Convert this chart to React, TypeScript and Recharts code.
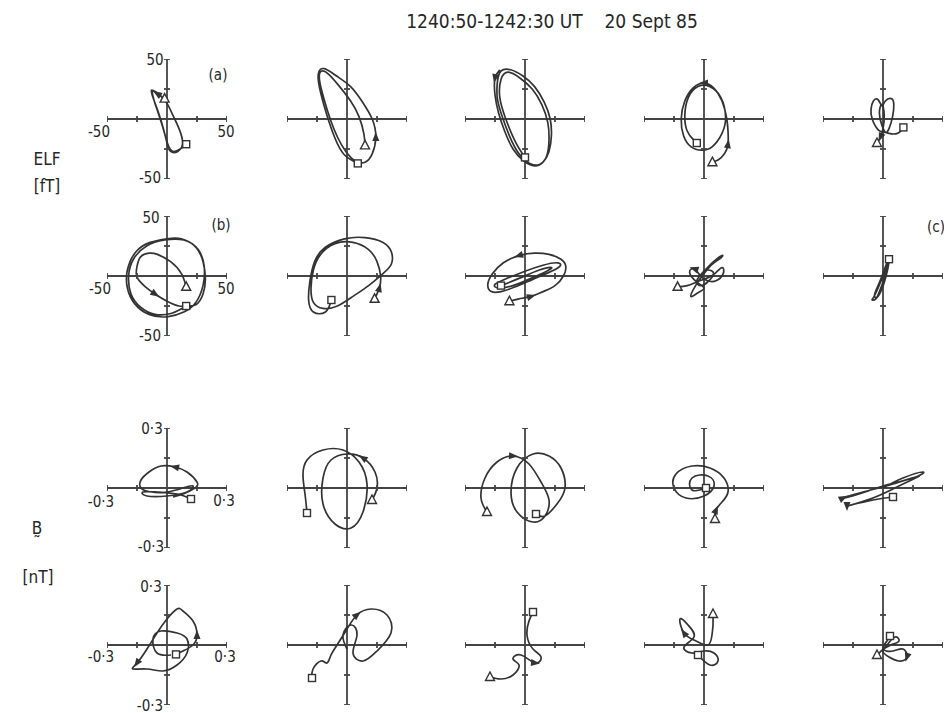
import React from "react";
import { ComposedChart, Line, Scatter, XAxis, YAxis, ReferenceLine } from "recharts";

type Pt = { x: number; y: number };
type Mark = "tri" | "sq" | "none";

const title = "1240:50-1242:30 UT    20 Sept 85";
const colX = [167, 347, 525, 704, 883];
const rowY = [119, 276, 488, 645];
const elfTicks = [-50, -25, 25, 50];
const bTicks = [-0.3, -0.15, 0.15, 0.3];

// ELF (a) row, fT
const elfA1: Pt[] = [
  { x: -2, y: 17 }, { x: -8, y: 21 }, { x: -13, y: 24 }, { x: -11, y: 16 }, { x: -7, y: 5 },
  { x: -3, y: -8 }, { x: 0, y: -20 }, { x: 3, y: -27 }, { x: 9, y: -27 }, { x: 13, y: -20 },
  { x: 10, y: -8 }, { x: 5, y: 3 }, { x: 0, y: 13 }, { x: -6, y: 20 }, { x: -12, y: 23 },
  { x: -10, y: 13 }, { x: -6, y: 1 }, { x: -2, y: -12 }, { x: 1, y: -22 }, { x: 5, y: -27 },
  { x: 11, y: -25 }, { x: 16, y: -21 },
];
const elfA2: Pt[] = [
  { x: 15, y: -22 }, { x: 14, y: -12 }, { x: 10, y: 2 }, { x: 3, y: 15 }, { x: -7, y: 28 },
  { x: -15, y: 37 }, { x: -21, y: 40 }, { x: -23, y: 33 }, { x: -19, y: 16 }, { x: -14, y: 0 },
  { x: -8, y: -15 }, { x: -1, y: -27 }, { x: 7, y: -35 }, { x: 15, y: -36 }, { x: 21, y: -29 },
  { x: 24, y: -15 }, { x: 21, y: 0 }, { x: 13, y: 14 }, { x: 3, y: 27 }, { x: -9, y: 36 },
  { x: -19, y: 42 }, { x: -24, y: 37 }, { x: -22, y: 22 }, { x: -17, y: 4 }, { x: -10, y: -16 },
  { x: -2, y: -30 }, { x: 9, y: -37 },
];
const elfA3: Pt[] = [
  { x: -21, y: 41 }, { x: -25, y: 34 }, { x: -25, y: 20 }, { x: -22, y: 5 }, { x: -17, y: -10 },
  { x: -10, y: -25 }, { x: -1, y: -35 }, { x: 8, y: -39 }, { x: 15, y: -36 }, { x: 20, y: -27 },
  { x: 22, y: -14 }, { x: 21, y: 0 }, { x: 16, y: 14 }, { x: 8, y: 27 }, { x: -2, y: 36 },
  { x: -12, y: 41 }, { x: -20, y: 40 }, { x: -23, y: 31 }, { x: -23, y: 17 }, { x: -19, y: 2 },
  { x: -13, y: -14 }, { x: -5, y: -29 }, { x: 4, y: -37 }, { x: 12, y: -38 }, { x: 18, y: -31 },
  { x: 20, y: -18 }, { x: 19, y: -3 }, { x: 14, y: 12 }, { x: 6, y: 25 }, { x: -4, y: 34 },
  { x: -14, y: 39 }, { x: -20, y: 33 }, { x: -21, y: 18 }, { x: -16, y: 0 }, { x: -8, y: -19 },
  { x: 0, y: -32 },
];
const elfA4: Pt[] = [
  { x: 7, y: -36 }, { x: 12, y: -34 }, { x: 17, y: -29 }, { x: 20, y: -21 }, { x: 20, y: -10 },
  { x: 19, y: 0 }, { x: 15, y: 15 }, { x: 8, y: 26 }, { x: 0, y: 30 }, { x: -9, y: 26 },
  { x: -16, y: 15 }, { x: -19, y: 0 }, { x: -17, y: -14 }, { x: -11, y: -23 }, { x: -2, y: -26 },
  { x: 7, y: -23 }, { x: 15, y: -12 }, { x: 18, y: 2 }, { x: 14, y: 18 }, { x: 5, y: 27 },
  { x: -5, y: 27 }, { x: -13, y: 18 }, { x: -16, y: 3 }, { x: -14, y: -10 }, { x: -9, y: -17 },
  { x: -6, y: -20 },
];
const elfA5: Pt[] = [
  { x: 17, y: -7 }, { x: 12, y: -12 }, { x: 5, y: -12 }, { x: 1, y: -11 }, { x: -4, y: -9 },
  { x: -9, y: 0 }, { x: -10, y: 8 }, { x: -8, y: 15 }, { x: -4, y: 16 }, { x: -1, y: 11 },
  { x: 2, y: 15 }, { x: 7, y: 17 }, { x: 9, y: 12 }, { x: 8, y: 2 }, { x: 5, y: -8 },
  { x: 2, y: -11 }, { x: -1, y: -5 }, { x: -3, y: 5 }, { x: -1, y: 12 }, { x: 1, y: 3 },
  { x: 0, y: -8 }, { x: -2, y: -15 }, { x: -5, y: -20 },
];

// ELF (b) row, fT
const elfB1: Pt[] = [
  { x: 16, y: -9 }, { x: 12, y: 2 }, { x: 3, y: 12 }, { x: -8, y: 18 }, { x: -15, y: 19 },
  { x: -22, y: 16 }, { x: -25, y: 8 }, { x: -25, y: -1 }, { x: -18, y: -9 }, { x: -10, y: -15 },
  { x: 0, y: -21 }, { x: 10, y: -25 }, { x: 16, y: -25 }, { x: 24, y: -24 }, { x: 30, y: -15 },
  { x: 32, y: -2 }, { x: 30, y: 12 }, { x: 24, y: 24 }, { x: 12, y: 31 }, { x: 0, y: 31 },
  { x: -14, y: 28 }, { x: -26, y: 20 }, { x: -33, y: 5 }, { x: -33, y: -10 }, { x: -27, y: -23 },
  { x: -15, y: -32 }, { x: 0, y: -34 }, { x: 14, y: -30 }, { x: 24, y: -22 }, { x: 30, y: -8 },
  { x: 31, y: 8 }, { x: 26, y: 22 }, { x: 14, y: 30 }, { x: -2, y: 30 }, { x: -17, y: 25 },
  { x: -28, y: 14 }, { x: -32, y: 0 }, { x: -30, y: -15 }, { x: -22, y: -26 }, { x: -10, y: -32 },
  { x: 4, y: -31 }, { x: 16, y: -25 },
];
const elfB2: Pt[] = [
  { x: 23, y: -19 }, { x: 27, y: -10 }, { x: 28, y: 0 }, { x: 25, y: 12 }, { x: 18, y: 22 },
  { x: 5, y: 28 }, { x: -10, y: 27 }, { x: -22, y: 18 }, { x: -28, y: 5 }, { x: -30, y: -10 },
  { x: -28, y: -22 }, { x: -20, y: -27 }, { x: -8, y: -25 }, { x: 5, y: -17 }, { x: 18, y: -8 },
  { x: 30, y: 2 }, { x: 37, y: 10 }, { x: 37, y: 20 }, { x: 30, y: 28 }, { x: 15, y: 32 },
  { x: -2, y: 31 }, { x: -18, y: 24 }, { x: -27, y: 12 }, { x: -31, y: -5 }, { x: -32, y: -20 },
  { x: -28, y: -30 }, { x: -18, y: -30 }, { x: -13, y: -20 },
];
const elfB3: Pt[] = [
  { x: -13, y: -21 }, { x: -5, y: -19 }, { x: 5, y: -17 }, { x: 15, y: -13 }, { x: 25, y: -8 },
  { x: 32, y: 0 }, { x: 34, y: 8 }, { x: 30, y: 14 }, { x: 20, y: 18 }, { x: 8, y: 19 },
  { x: -5, y: 17 }, { x: -18, y: 11 }, { x: -27, y: 2 }, { x: -31, y: -7 }, { x: -28, y: -13 },
  { x: -20, y: -13 }, { x: -8, y: -9 }, { x: 6, y: -3 }, { x: 20, y: 3 }, { x: 29, y: 8 },
  { x: 27, y: 11 }, { x: 15, y: 9 }, { x: 0, y: 4 }, { x: -15, y: -2 }, { x: -25, y: -7 },
  { x: -22, y: -10 }, { x: -10, y: -8 }, { x: 5, y: -2 }, { x: 18, y: 4 }, { x: 22, y: 7 },
  { x: 12, y: 5 }, { x: -5, y: -2 }, { x: -20, y: -8 },
];
const elfB4: Pt[] = [
  { x: -22, y: -9 }, { x: -14, y: -8 }, { x: -6, y: -5 }, { x: 2, y: -2 }, { x: 9, y: 2 },
  { x: 15, y: 7 }, { x: 16, y: 2 }, { x: 10, y: -4 }, { x: 3, y: -4 }, { x: -3, y: 0 },
  { x: -8, y: 6 }, { x: -12, y: 3 }, { x: -6, y: -5 }, { x: 0, y: -10 }, { x: -5, y: -14 },
  { x: -11, y: -17 }, { x: -7, y: -8 }, { x: 0, y: 2 }, { x: 7, y: 10 }, { x: 14, y: 15 },
  { x: 15, y: 17 }, { x: 8, y: 12 }, { x: 0, y: 4 }, { x: -6, y: -4 }, { x: -3, y: -8 },
  { x: 3, y: -5 }, { x: 8, y: 2 }, { x: 3, y: 5 }, { x: -2, y: 2 },
];
const elfB5: Pt[] = [
  { x: 5, y: 14 }, { x: 3, y: 8 }, { x: 1, y: 2 }, { x: -2, y: -5 }, { x: -5, y: -12 },
  { x: -8, y: -18 }, { x: -9, y: -20 }, { x: -6, y: -19 }, { x: -3, y: -13 }, { x: 0, y: -5 },
  { x: 2, y: 2 }, { x: 4, y: 9 }, { x: 6, y: 13 }, { x: 4, y: 12 }, { x: 1, y: 5 },
  { x: -2, y: -3 }, { x: -5, y: -10 }, { x: -7, y: -16 }, { x: -5, y: -18 }, { x: -1, y: -11 },
  { x: 2, y: -2 }, { x: 4, y: 6 }, { x: 5, y: 12 },
];

// B rows, nT
const bA1: Pt[] = [
  { x: 0.03, y: -0.045 }, { x: 0.08, y: -0.03 }, { x: 0.14, y: 0.0 }, { x: 0.15, y: 0.03 },
  { x: 0.1, y: 0.08 }, { x: 0.04, y: 0.105 }, { x: -0.03, y: 0.11 }, { x: -0.09, y: 0.08 },
  { x: -0.13, y: 0.04 }, { x: -0.13, y: 0.0 }, { x: -0.08, y: -0.02 }, { x: 0.0, y: -0.02 },
  { x: 0.08, y: 0.0 }, { x: 0.13, y: 0.01 }, { x: 0.1, y: -0.02 }, { x: 0.0, y: -0.04 },
  { x: -0.1, y: -0.04 }, { x: -0.12, y: -0.02 }, { x: -0.05, y: -0.02 }, { x: 0.05, y: -0.03 },
  { x: 0.12, y: -0.055 },
];
const bA2: Pt[] = [
  { x: 0.125, y: -0.06 }, { x: 0.15, y: 0.0 }, { x: 0.14, y: 0.08 }, { x: 0.08, y: 0.15 },
  { x: 0.0, y: 0.17 }, { x: -0.08, y: 0.14 }, { x: -0.12, y: 0.05 }, { x: -0.12, y: -0.08 },
  { x: -0.06, y: -0.18 }, { x: 0.02, y: -0.2 }, { x: 0.08, y: -0.12 }, { x: 0.1, y: 0.02 },
  { x: 0.06, y: 0.13 }, { x: -0.02, y: 0.19 }, { x: -0.12, y: 0.19 }, { x: -0.2, y: 0.14 },
  { x: -0.22, y: 0.06 }, { x: -0.21, y: -0.03 }, { x: -0.2, y: -0.125 },
];
const bA3: Pt[] = [
  { x: -0.19, y: -0.12 }, { x: -0.22, y: -0.05 }, { x: -0.2, y: 0.05 }, { x: -0.14, y: 0.13 },
  { x: -0.06, y: 0.16 }, { x: 0.02, y: 0.12 }, { x: 0.08, y: 0.03 }, { x: 0.12, y: -0.06 },
  { x: 0.1, y: -0.14 }, { x: 0.04, y: -0.17 }, { x: -0.04, y: -0.12 }, { x: -0.07, y: -0.02 },
  { x: -0.04, y: 0.1 }, { x: 0.04, y: 0.17 }, { x: 0.12, y: 0.16 }, { x: 0.18, y: 0.1 },
  { x: 0.2, y: 0.0 }, { x: 0.16, y: -0.08 }, { x: 0.1, y: -0.14 }, { x: 0.055, y: -0.13 },
];
const bA4: Pt[] = [
  { x: 0.055, y: -0.155 }, { x: 0.06, y: -0.11 }, { x: 0.09, y: -0.07 }, { x: 0.12, y: -0.02 },
  { x: 0.1, y: 0.05 }, { x: 0.03, y: 0.1 }, { x: -0.06, y: 0.11 }, { x: -0.14, y: 0.07 },
  { x: -0.15, y: 0.0 }, { x: -0.09, y: -0.05 }, { x: 0.0, y: -0.04 }, { x: 0.05, y: 0.01 },
  { x: 0.02, y: 0.06 }, { x: -0.06, y: 0.05 }, { x: -0.06, y: -0.01 }, { x: 0.01, y: 0.0 },
];
const bA5: Pt[] = [
  { x: 0.0, y: 0.0 }, { x: 0.1, y: 0.05 }, { x: 0.2, y: 0.08 }, { x: 0.15, y: 0.05 },
  { x: 0.0, y: 0.01 }, { x: -0.12, y: -0.03 }, { x: -0.2, y: -0.05 }, { x: -0.1, y: -0.02 },
  { x: 0.05, y: 0.02 }, { x: 0.18, y: 0.06 }, { x: 0.1, y: 0.02 }, { x: -0.05, y: -0.05 },
  { x: -0.18, y: -0.09 }, { x: -0.05, y: -0.06 }, { x: 0.05, y: -0.045 },
];
const bB1: Pt[] = [
  { x: 0.045, y: -0.047 }, { x: 0.08, y: -0.03 }, { x: 0.13, y: 0.0 }, { x: 0.15, y: 0.05 },
  { x: 0.13, y: 0.12 }, { x: 0.08, y: 0.17 }, { x: 0.05, y: 0.18 }, { x: 0.0, y: 0.13 },
  { x: -0.05, y: 0.06 }, { x: -0.1, y: -0.02 }, { x: -0.15, y: -0.09 }, { x: -0.17, y: -0.12 },
  { x: -0.1, y: -0.12 }, { x: -0.02, y: -0.13 }, { x: 0.05, y: -0.1 }, { x: 0.1, y: -0.04 },
  { x: 0.1, y: 0.03 }, { x: 0.05, y: 0.06 }, { x: -0.03, y: 0.07 }, { x: -0.07, y: 0.03 },
  { x: -0.05, y: -0.04 }, { x: 0.02, y: -0.05 },
];
const bB2: Pt[] = [
  { x: -0.175, y: -0.165 }, { x: -0.17, y: -0.12 }, { x: -0.13, y: -0.08 }, { x: -0.1, y: -0.09 },
  { x: -0.08, y: -0.05 }, { x: -0.05, y: 0.0 }, { x: 0.0, y: 0.08 }, { x: 0.05, y: 0.15 },
  { x: 0.12, y: 0.18 }, { x: 0.2, y: 0.15 }, { x: 0.22, y: 0.06 }, { x: 0.15, y: -0.03 },
  { x: 0.08, y: -0.08 }, { x: 0.03, y: -0.04 }, { x: 0.05, y: 0.05 }, { x: 0.02, y: 0.1 },
  { x: -0.02, y: 0.05 }, { x: 0.0, y: -0.02 },
];
const bB3: Pt[] = [
  { x: -0.175, y: -0.16 }, { x: -0.12, y: -0.17 }, { x: -0.06, y: -0.15 }, { x: -0.03, y: -0.1 },
  { x: -0.06, y: -0.07 }, { x: -0.02, y: -0.05 }, { x: 0.05, y: -0.09 }, { x: 0.08, y: -0.06 },
  { x: 0.04, y: -0.02 }, { x: 0.01, y: 0.05 }, { x: 0.02, y: 0.12 }, { x: 0.04, y: 0.165 },
];
const bB4: Pt[] = [
  { x: 0.045, y: 0.155 }, { x: 0.045, y: 0.1 }, { x: 0.04, y: 0.05 }, { x: 0.02, y: 0.0 },
  { x: -0.04, y: 0.02 }, { x: -0.1, y: 0.06 }, { x: -0.12, y: 0.13 }, { x: -0.08, y: 0.1 },
  { x: -0.05, y: 0.04 }, { x: -0.1, y: -0.01 }, { x: -0.06, y: -0.04 }, { x: 0.0, y: -0.03 },
  { x: 0.05, y: -0.04 }, { x: 0.07, y: -0.08 }, { x: 0.03, y: -0.1 }, { x: -0.03, y: -0.05 },
];
const bB5: Pt[] = [
  { x: 0.035, y: 0.045 }, { x: 0.02, y: 0.02 }, { x: 0.0, y: -0.02 }, { x: 0.05, y: -0.03 },
  { x: 0.1, y: -0.02 }, { x: 0.12, y: -0.06 }, { x: 0.08, y: -0.08 }, { x: 0.03, y: -0.06 },
  { x: 0.0, y: -0.03 }, { x: 0.04, y: 0.0 }, { x: 0.08, y: 0.02 }, { x: 0.06, y: 0.04 },
  { x: 0.02, y: 0.0 }, { x: -0.02, y: -0.04 }, { x: -0.03, y: -0.05 },
];

type PanelDef = { trace: Pt[]; arrows: number[]; first: Mark; last: Mark };

const rows: PanelDef[][] = [
  [
    { trace: elfA1, arrows: [1], first: "tri", last: "sq" },
    { trace: elfA2, arrows: [15], first: "tri", last: "sq" },
    { trace: elfA3, arrows: [1], first: "none", last: "sq" },
    { trace: elfA4, arrows: [3, 8], first: "tri", last: "sq" },
    { trace: elfA5, arrows: [21], first: "sq", last: "tri" },
  ],
  [
    { trace: elfB1, arrows: [9], first: "tri", last: "sq" },
    { trace: elfB2, arrows: [1], first: "tri", last: "sq" },
    { trace: elfB3, arrows: [2, 10], first: "tri", last: "sq" },
    { trace: elfB4, arrows: [10], first: "tri", last: "none" },
    { trace: elfB5, arrows: [], first: "sq", last: "none" },
  ],
  [
    { trace: bA1, arrows: [5], first: "none", last: "sq" },
    { trace: bA2, arrows: [3], first: "tri", last: "sq" },
    { trace: bA3, arrows: [4], first: "tri", last: "sq" },
    { trace: bA4, arrows: [1], first: "tri", last: "sq" },
    { trace: bA5, arrows: [6, 12], first: "none", last: "sq" },
  ],
  [
    { trace: bB1, arrows: [3, 10], first: "sq", last: "none" },
    { trace: bB2, arrows: [7], first: "sq", last: "none" },
    { trace: bB3, arrows: [6], first: "tri", last: "sq" },
    { trace: bB4, arrows: [5], first: "tri", last: "sq" },
    { trace: bB5, arrows: [5], first: "sq", last: "tri" },
  ],
];

const INK = "#333";
const AXIS = "#444";
const FONT = "'DejaVu Sans Condensed', 'DejaVu Sans', sans-serif";

const TickMark = (p: any) => {
  const { cx, cy, payload } = p;
  if (cx == null || cy == null) return <g />;
  return payload.dir === "h" ? (
    <line x1={cx} y1={cy - 3} x2={cx} y2={cy + 3} stroke={AXIS} strokeWidth={1.8} />
  ) : (
    <line x1={cx - 3} y1={cy} x2={cx + 3} y2={cy} stroke={AXIS} strokeWidth={1.8} />
  );
};

const Marker = (p: any) => {
  const { cx, cy, payload } = p;
  if (cx == null || cy == null) return <g />;
  if (payload.kind === "tri") {
    return (
      <path
        d={`M${cx},${cy - 5} L${cx + 4.5},${cy + 3.5} L${cx - 4.5},${cy + 3.5} Z`}
        fill="#fff"
        stroke={INK}
        strokeWidth={1.4}
      />
    );
  }
  return <rect x={cx - 3.5} y={cy - 3.5} width={7} height={7} fill="#fff" stroke={INK} strokeWidth={1.4} />;
};

function Hodogram({ def, lim, ticks }: { def: PanelDef; lim: number; ticks: number[] }) {
  const { trace, arrows, first, last } = def;
  const axisPts = [
    ...ticks.map((t) => ({ x: t, y: 0, dir: "h" })),
    ...ticks.map((t) => ({ x: 0, y: t, dir: "v" })),
  ];
  const marks: any[] = [];
  if (first !== "none") marks.push({ ...trace[0], kind: first });
  if (last !== "none") marks.push({ ...trace[trace.length - 1], kind: last });

  const arrowDot = (p: any) => {
    const i = p.index;
    if (!arrows.includes(i) || p.cx == null) return <g key={`d${i}`} />;
    const a = trace[Math.max(i - 1, 0)];
    const b = trace[Math.min(i + 1, trace.length - 1)];
    const ang = (Math.atan2(-(b.y - a.y), b.x - a.x) * 180) / Math.PI;
    return (
      <path
        key={`d${i}`}
        d="M5,0 L-4,-3.5 L-4,3.5 Z"
        transform={`translate(${p.cx},${p.cy}) rotate(${ang})`}
        fill={INK}
      />
    );
  };

  return (
    <ComposedChart width={160} height={140} margin={{ top: 10, right: 20, bottom: 10, left: 20 }}>
      <XAxis type="number" dataKey="x" domain={[-lim, lim]} hide allowDataOverflow />
      <YAxis type="number" dataKey="y" domain={[-lim, lim]} hide allowDataOverflow />
      <ReferenceLine x={0} stroke={AXIS} strokeWidth={1.8} />
      <ReferenceLine y={0} stroke={AXIS} strokeWidth={1.8} />
      <Scatter data={axisPts} shape={TickMark} isAnimationActive={false} />
      <Line
        data={trace}
        dataKey="y"
        type="natural"
        stroke={INK}
        strokeWidth={1.7}
        dot={arrowDot}
        activeDot={false}
        isAnimationActive={false}
      />
      <Scatter data={marks} shape={Marker} isAnimationActive={false} />
    </ComposedChart>
  );
}

function Txt({ x, y, size = 15, children }: { x: number; y: number; size?: number; children: React.ReactNode }) {
  return (
    <div
      style={{
        position: "absolute",
        left: x,
        top: y,
        transform: "translate(-50%, -50%)",
        fontFamily: FONT,
        fontSize: size,
        color: "#262626",
        whiteSpace: "pre",
        lineHeight: 1,
      }}
    >
      {children}
    </div>
  );
}

export default function App() {
  return (
    <div
      style={{
        position: "absolute",
        left: 0,
        top: 0,
        width: 944,
        height: 713,
        overflow: "hidden",
        background: "#fff",
      }}
    >
      <Txt x={552} y={21} size={19}>{title}</Txt>

      <Txt x={47} y={159} size={17}>ELF</Txt>
      <Txt x={47} y={186} size={17}>[fT]</Txt>
      <Txt x={37} y={528} size={17}>{"B\u0330"}</Txt>
      <Txt x={38} y={577} size={17}>[nT]</Txt>

      {rows.map((row, r) =>
        row.map((def, c) => (
          <div
            key={`${r}-${c}`}
            style={{ position: "absolute", left: colX[c] - 80, top: rowY[r] - 70 }}
          >
            <Hodogram def={def} lim={r < 2 ? 50 : 0.3} ticks={r < 2 ? elfTicks : bTicks} />
          </div>
        ))
      )}

      <Txt x={155} y={60}>50</Txt>
      <Txt x={218} y={75}>(a)</Txt>
      <Txt x={99} y={132}>-50</Txt>
      <Txt x={226} y={132}>50</Txt>
      <Txt x={150} y={178}>-50</Txt>

      <Txt x={151} y={218}>50</Txt>
      <Txt x={221} y={225}>(b)</Txt>
      <Txt x={100} y={289}>-50</Txt>
      <Txt x={226} y={289}>50</Txt>
      <Txt x={150} y={336}>-50</Txt>
      <Txt x={936} y={227}>(c)</Txt>

      <Txt x={152} y={429}>0·3</Txt>
      <Txt x={101} y={502}>-0·3</Txt>
      <Txt x={224} y={501}>0·3</Txt>
      <Txt x={151} y={547}>-0·3</Txt>

      <Txt x={151} y={587}>0·3</Txt>
      <Txt x={101} y={657}>-0·3</Txt>
      <Txt x={225} y={657}>0·3</Txt>
      <Txt x={150} y={706}>-0·3</Txt>
    </div>
  );
}
